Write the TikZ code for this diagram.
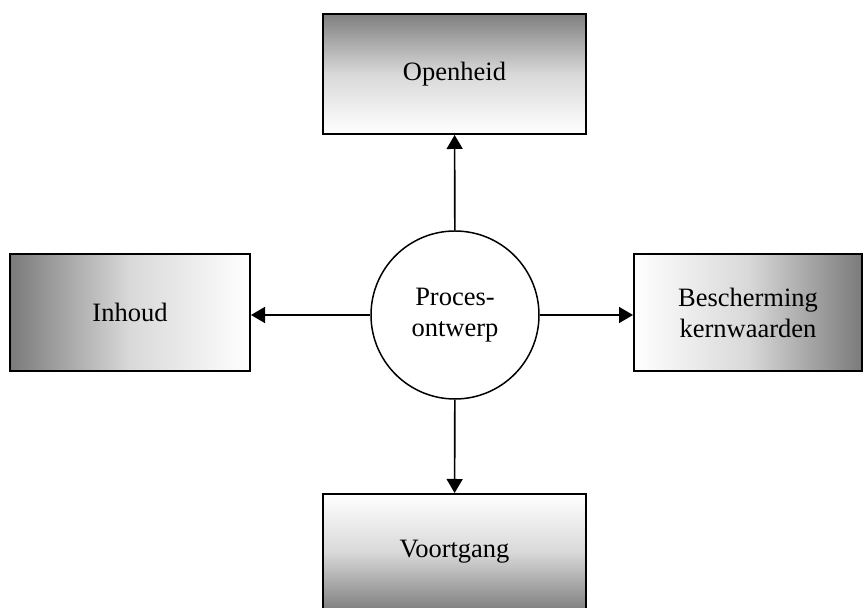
\documentclass[tikz,border=0pt]{standalone}
\usepackage{fontspec}
\setmainfont{Liberation Serif}
\usepackage{tikz}
\usetikzlibrary{arrows.meta}

\begin{document}
\begin{tikzpicture}[x=0.5pt,y=-0.5pt,
  every node/.style={font=\fontsize{13.25}{15.5}\selectfont,align=center,inner sep=0pt},
  box/.style={rectangle,draw,line width=1pt},
  pijl/.style={-{Triangle[length=7pt,width=8pt]},line width=0.8pt}]
  \useasboundingbox (0,0) rectangle (864,608);

  	\node[box,minimum width=131.5pt,minimum height=60pt,top color=black!50,bottom color=white,middle color=black!15] (open) at (454.5,74) {\raisebox{-4pt}{Openheid}};
  	\node[box,minimum width=120pt,minimum height=58.5pt,left color=black!52,right color=white,middle color=black!15] (inhoud) at (130,312.5) {\raisebox{-4pt}{Inhoud}};
  	\node[box,minimum width=114pt,minimum height=58.5pt,left color=white,right color=black!52,middle color=black!15] (besch) at (748,312.5) {Bescherming\\kernwaarden};
  	\node[box,minimum width=131.5pt,minimum height=58pt,top color=white,bottom color=black!50,middle color=black!15] (voort) at (454.5,552) {\raisebox{-4pt}{Voortgang}};
  	\node[circle,draw,line width=0.75pt,minimum size=84pt,fill=white] (proc) at (455,315) {\raisebox{-2pt}{\parbox{60pt}{\centering Proces-\\ontwerp}}};

  	\draw[pijl] (proc) -- (open);
  	\draw[pijl] (proc.west) -- (proc.west -| inhoud.east);
  	\draw[pijl] (proc.east) -- (proc.east -| besch.west);
  	\draw[pijl] (proc) -- (voort);
\end{tikzpicture}
\end{document}
